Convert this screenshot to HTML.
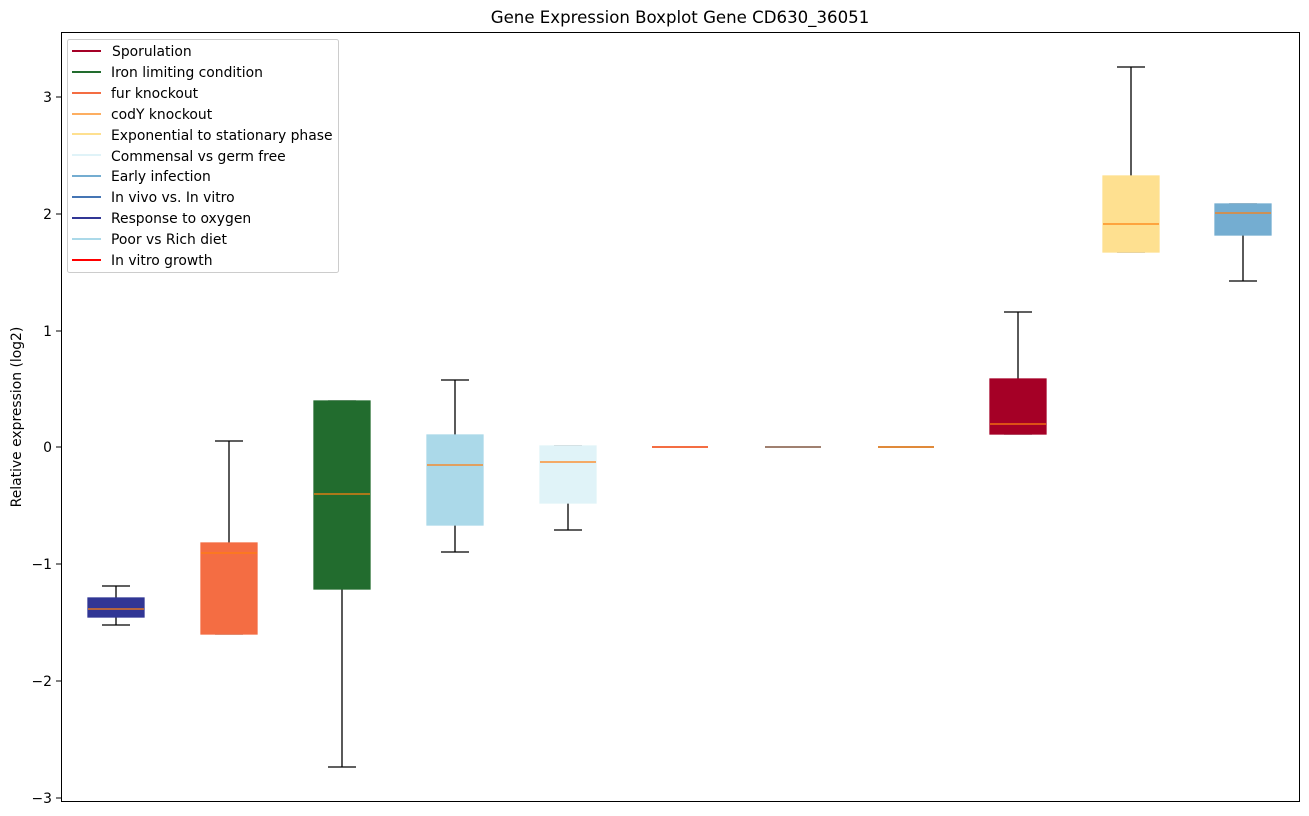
<!DOCTYPE html>
<html><head><style>body{margin:0;background:#fff}svg{display:block;font-family:"DejaVu Sans","Liberation Sans",sans-serif}</style></head><body>
<svg width="1309" height="816" viewBox="0 0 1309 816">
<text x="680" y="23" font-size="16.6" text-anchor="middle">Gene Expression Boxplot Gene CD630_36051</text>
<g font-size="13.9" text-anchor="end">
<line x1="56" x2="61" y1="97" y2="97" stroke="#000"/><text x="52" y="102">3</text>
<line x1="56" x2="61" y1="214" y2="214" stroke="#000"/><text x="52" y="219">2</text>
<line x1="56" x2="61" y1="331" y2="331" stroke="#000"/><text x="52" y="336">1</text>
<line x1="56" x2="61" y1="447" y2="447" stroke="#000"/><text x="52" y="452">0</text>
<line x1="56" x2="61" y1="564" y2="564" stroke="#000"/><text x="52" y="569">−1</text>
<line x1="56" x2="61" y1="681" y2="681" stroke="#000"/><text x="52" y="686">−2</text>
<line x1="56" x2="61" y1="798" y2="798" stroke="#000"/><text x="52" y="803">−3</text>
</g>
<text transform="translate(21,417) rotate(-90)" font-size="13.9" text-anchor="middle">Relative expression (log2)</text>
<g stroke="#000" stroke-width="1.3">
<line x1="116" x2="116" y1="586" y2="625"/><line x1="102" x2="130" y1="586" y2="586"/><line x1="102" x2="130" y1="625" y2="625"/>
<rect x="88" y="598" width="56" height="19" fill="#313695" stroke="#313695"/>
<line x1="229" x2="229" y1="441" y2="543"/><line x1="215" x2="243" y1="441" y2="441"/><line x1="215" x2="243" y1="634" y2="634"/>
<rect x="201" y="543" width="56" height="91" fill="#f46d43" stroke="#f46d43"/>
<line x1="342" x2="342" y1="589" y2="767"/><line x1="328" x2="356" y1="767" y2="767"/><line x1="328" x2="356" y1="401" y2="401"/>
<rect x="314" y="401" width="56" height="188" fill="#226c2e" stroke="#226c2e"/>
<line x1="455" x2="455" y1="380" y2="552"/><line x1="441" x2="469" y1="380" y2="380"/><line x1="441" x2="469" y1="552" y2="552"/>
<rect x="427" y="435" width="56" height="90" fill="#abd9e9" stroke="#abd9e9"/>
<line x1="568" x2="568" y1="503" y2="530"/><line x1="554" x2="582" y1="530" y2="530"/><line x1="554" x2="582" y1="446" y2="446"/>
<rect x="540" y="446" width="56" height="57" fill="#e0f3f8" stroke="#e0f3f8"/>
<line x1="1018" x2="1018" y1="312" y2="379"/><line x1="1004" x2="1032" y1="312" y2="312"/><line x1="1004" x2="1032" y1="434" y2="434"/>
<rect x="990" y="379" width="56" height="55" fill="#a50026" stroke="#a50026"/>
<line x1="1131" x2="1131" y1="67" y2="176"/><line x1="1117" x2="1145" y1="67" y2="67"/><line x1="1117" x2="1145" y1="252" y2="252"/>
<rect x="1103" y="176" width="56" height="76" fill="#fee090" stroke="#fee090"/>
<line x1="1243" x2="1243" y1="235" y2="281"/><line x1="1229" x2="1257" y1="281" y2="281"/><line x1="1229" x2="1257" y1="204" y2="204"/>
<rect x="1215" y="204" width="56" height="31" fill="#74add1" stroke="#74add1"/>
</g>
<g stroke-width="2">
<line x1="652" x2="708" y1="447" y2="447" stroke="#f46d43"/>
<line x1="765" x2="821" y1="447" y2="447" stroke="#a08070"/>
<line x1="878" x2="934" y1="447" y2="447" stroke="#e08a3a"/>
</g>
<g stroke="#ff7f0e" stroke-width="1.3">
<line x1="88" x2="144" y1="609" y2="609"/><line x1="201" x2="257" y1="553" y2="553"/><line x1="314" x2="370" y1="494" y2="494"/>
<line x1="427" x2="483" y1="465" y2="465"/><line x1="540" x2="596" y1="462" y2="462"/><line x1="990" x2="1046" y1="424" y2="424"/>
<line x1="1103" x2="1159" y1="224" y2="224"/><line x1="1215" x2="1271" y1="213" y2="213"/>
</g>
<rect x="61.5" y="32.5" width="1238" height="769" fill="none" stroke="#000"/>
<rect x="67.5" y="39.5" width="271" height="233" fill="#fff" fill-opacity="0.8" stroke="#ccc" rx="2"/>
<g font-size="13.9" stroke-width="2">
<line x1="72" x2="101" y1="51" y2="51" stroke="#a50026"/><text x="112" y="56">Sporulation</text>
<line x1="72" x2="101" y1="72" y2="72" stroke="#226c2e"/><text x="111" y="77">Iron limiting condition</text>
<line x1="72" x2="101" y1="93" y2="93" stroke="#f46d43"/><text x="111" y="98">fur knockout</text>
<line x1="72" x2="101" y1="114" y2="114" stroke="#fdae61"/><text x="111" y="119">codY knockout</text>
<line x1="72" x2="101" y1="134" y2="134" stroke="#fee090"/><text x="111" y="140">Exponential to stationary phase</text>
<line x1="72" x2="101" y1="155" y2="155" stroke="#e0f3f8"/><text x="111" y="161">Commensal vs germ free</text>
<line x1="72" x2="101" y1="176" y2="176" stroke="#74add1"/><text x="111" y="181">Early infection</text>
<line x1="72" x2="101" y1="197" y2="197" stroke="#4575b4"/><text x="111" y="202">In vivo vs. In vitro</text>
<line x1="72" x2="101" y1="218" y2="218" stroke="#313695"/><text x="111" y="223">Response to oxygen</text>
<line x1="72" x2="101" y1="239" y2="239" stroke="#abd9e9"/><text x="111" y="244">Poor vs Rich diet</text>
<line x1="72" x2="101" y1="260" y2="260" stroke="#ff0000"/><text x="111" y="265">In vitro growth</text>
</g>
</svg>
</body></html>
